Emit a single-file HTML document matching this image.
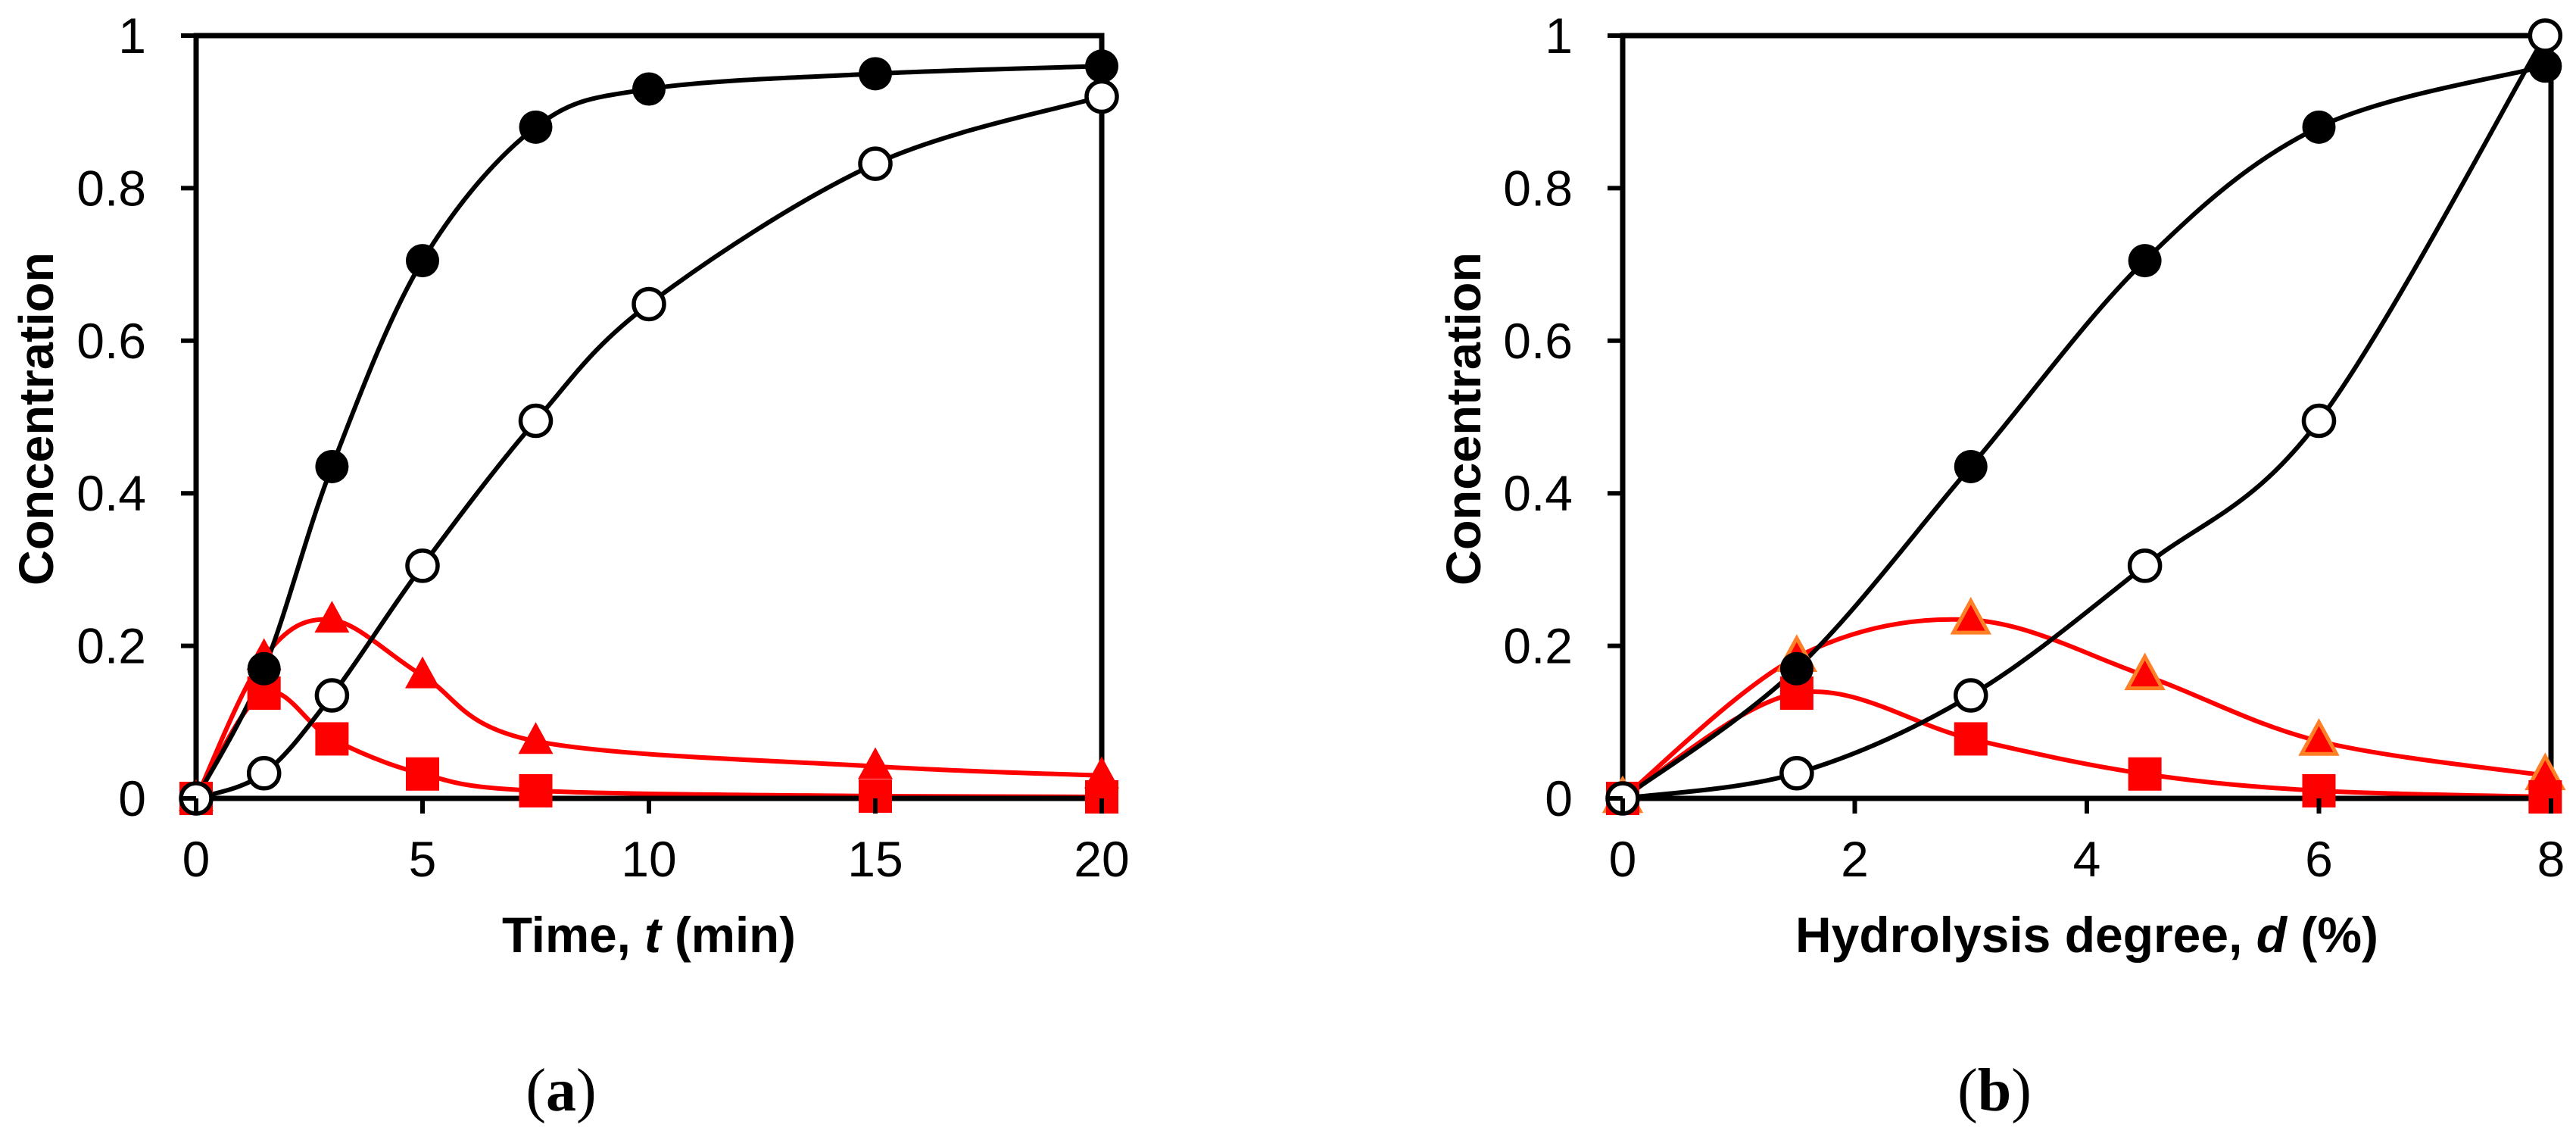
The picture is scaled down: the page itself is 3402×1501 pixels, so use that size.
<!DOCTYPE html>
<html><head><meta charset="utf-8"><style>
html,body{margin:0;padding:0;background:#fff;}
svg{display:block;}
text{font-family:"Liberation Sans",Arial,sans-serif;}
</style></head>
<body>
<svg id="fig" width="3402" height="1501" viewBox="0 0 3402 1501" xmlns="http://www.w3.org/2000/svg"></svg>
<script>
// ---- Panel (a) data: time (min)
const timeA = [0, 1.5, 3, 5, 7.5, 10, 15, 20];
const filledA = [0, 0.17, 0.435, 0.705, 0.88, 0.93, 0.95, 0.96];
const openA = [0, 0.033, 0.135, 0.305, 0.495, 0.648, 0.832, 0.92];
const triTimeA = [0, 1.5, 3, 5, 7.5, 15, 20];
const triA = [0, 0.185, 0.234, 0.161, 0.075, 0.042, 0.03];
const sqA = [0, 0.138, 0.078, 0.032, 0.01, 0.003, 0.002];
const xTicksA = [0, 5, 10, 15, 20];
// ---- Panel (b) data: hydrolysis degree (%)
const degB = [0, 1.5, 3, 4.5, 6, 7.95];
const filledB = [0, 0.17, 0.435, 0.705, 0.88, 0.96];
const openB = [0, 0.033, 0.135, 0.305, 0.495, 1.0];
const triB = [0, 0.185, 0.234, 0.161, 0.075, 0.03];
const sqB = [0, 0.138, 0.078, 0.032, 0.01, 0.002];
const xTicksB = [0, 2, 4, 6, 8];
const yTicks = [0, 0.2, 0.4, 0.6, 0.8, 1];
const yTickLabels = ["0", "0.2", "0.4", "0.6", "0.8", "1"];

const NS = "http://www.w3.org/2000/svg";
const svg = document.getElementById('fig');
function mk(tag, attrs, parent) {
  const e = document.createElementNS(NS, tag);
  for (const k in attrs) e.setAttribute(k, attrs[k]);
  (parent || svg).appendChild(e);
  return e;
}
function smoothPath(pts) {
  let d = "M" + pts[0][0] + "," + pts[0][1];
  for (let i = 0; i < pts.length - 1; i++) {
    const p0 = pts[Math.max(0, i - 1)], p1 = pts[i], p2 = pts[i + 1], p3 = pts[Math.min(pts.length - 1, i + 2)];
    const t = 6;
    const c1x = p1[0] + (p2[0] - p0[0]) / t, c1y = p1[1] + (p2[1] - p0[1]) / t;
    const c2x = p2[0] - (p3[0] - p1[0]) / t, c2y = p2[1] - (p3[1] - p1[1]) / t;
    d += " C" + c1x + "," + c1y + " " + c2x + "," + c2y + " " + p2[0] + "," + p2[1];
  }
  return d;
}

function panel(cfg) {
  const g = mk('g', {});
  
  
  const X = v => cfg.x0 + (v - cfg.xmin) / (cfg.xmax - cfg.xmin) * (cfg.x1 - cfg.x0);
  const Y = v => cfg.y0 - v * (cfg.y0 - cfg.y1);

  const series = [
    {xs: cfg.triX, ys: cfg.tri, color: '#ff0000', w: 6, type: 'tri', name: 'triangle'},
    {xs: cfg.sqX, ys: cfg.sq, color: '#ff0000', w: 6, type: 'sq', name: 'square'},
    {xs: cfg.ox, ys: cfg.filled, color: '#000', w: 6, type: 'filled', name: 'filled-circle'},
    {xs: cfg.ox, ys: cfg.open, color: '#000', w: 6, type: 'open', name: 'open-circle'}
  ];
  series.forEach(s => {
    const pts = s.xs.map((x, i) => [X(x), Y(s.ys[i])]);
    const p = mk('path', {d: smoothPath(pts), fill: 'none', stroke: s.color, 'stroke-width': s.w}, g);
    
    
  });
  const fr = mk('rect', {x: cfg.x0, y: cfg.y1, width: cfg.x1 - cfg.x0, height: cfg.y0 - cfg.y1, fill: 'none', stroke: '#000', 'stroke-width': 7}, g);
  
  
  series.forEach(s => {
    s.xs.forEach((x, i) => {
      const cx = X(x), cy = Y(s.ys[i]);
      let m;
      if (s.type === 'tri') {
        const h = 42, w = 46;
        m = mk('polygon', {points: `${cx},${cy - h * 0.6} ${cx - w / 2},${cy + h * 0.4} ${cx + w / 2},${cy + h * 0.4}`, fill: '#ff0000', stroke: cfg.triStroke, 'stroke-width': cfg.triStroke === 'none' ? 0 : 5}, g);
      } else if (s.type === 'sq') {
        m = mk('rect', {x: cx - 22, y: cy - 22, width: 44, height: 44, fill: '#ff0000'}, g);
      } else if (s.type === 'open') {
        m = mk('circle', {cx: cx, cy: cy, r: 20, fill: '#fff', stroke: '#000', 'stroke-width': 5.5}, g);
      } else {
        m = mk('circle', {cx: cx, cy: cy, r: 22, fill: '#000'}, g);
      }
      
      
    });
  });
  yTicks.forEach((v, i) => {
    const y = Y(v);
    const t = mk('line', {x1: cfg.x0 - 20, x2: cfg.x0, y1: y, y2: y, stroke: '#000', 'stroke-width': 6}, g);
    
    
    const lb = mk('text', {x: cfg.x0 - 66, y: y + 23, 'font-size': 66, 'text-anchor': 'end', fill: '#000'}, g);
    lb.textContent = yTickLabels[i];
    
    
  });
  cfg.xticks.forEach(v => {
    const x = X(v);
    const t = mk('line', {x1: x, x2: x, y1: cfg.y0, y2: cfg.y0 + 20, stroke: '#000', 'stroke-width': 6}, g);
    
    
    const lb = mk('text', {x: x, y: 1157, 'font-size': 66, 'text-anchor': 'middle', fill: '#000'}, g);
    lb.textContent = String(v);
    
    
  });
  const yt = mk('text', {x: 0, y: 0, 'font-size': 64, 'font-weight': 'bold', 'text-anchor': 'middle', transform: `translate(${cfg.yTitleX},553) rotate(-90)`, textLength: 440, lengthAdjust: 'spacingAndGlyphs'}, g);
  yt.textContent = 'Concentration';
  
  
  const xt = mk('text', {x: (cfg.x0 + cfg.x1) / 2, y: 1257, 'font-size': 66, 'font-weight': 'bold', 'text-anchor': 'middle', textLength: cfg.xTitleLen, lengthAdjust: 'spacingAndGlyphs'}, g);
  
  
  xt.appendChild(document.createTextNode(cfg.xTitle[0]));
  const it = mk('tspan', {'font-style': 'italic'}, xt);
  it.textContent = cfg.xTitle[1];
  xt.appendChild(document.createTextNode(cfg.xTitle[2]));
  const pl = mk('text', {x: cfg.labelX, y: 1466, 'font-size': 80, 'text-anchor': 'middle', style: 'font-family:"Liberation Serif",serif'}, g);
  
  
  pl.appendChild(document.createTextNode('('));
  const b = mk('tspan', {'font-weight': 'bold'}, pl);
  b.textContent = cfg.label;
  pl.appendChild(document.createTextNode(')'));
}

panel({name: 'panel-a', x0: 259, x1: 1455, y0: 1054, y1: 47, xmin: 0, xmax: 20,
  ox: timeA, filled: filledA, open: openA, triX: triTimeA, tri: triA, sqX: triTimeA, sq: sqA,
  xticks: xTicksA, triStroke: 'none', yTitleX: 70, xTitle: ['Time, ', 't', ' (min)'], xTitleLen: 388,
  labelX: 741, label: 'a'});
panel({name: 'panel-b', x0: 2143, x1: 3369, y0: 1054, y1: 47, xmin: 0, xmax: 8,
  ox: degB, filled: filledB, open: openB, triX: degB, tri: triB, sqX: degB, sq: sqB,
  xticks: xTicksB, triStroke: '#ff7f27', yTitleX: 1955, xTitle: ['Hydrolysis degree, ', 'd', ' (%)'], xTitleLen: 770,
  labelX: 2634, label: 'b'});
</script>
</body></html>
